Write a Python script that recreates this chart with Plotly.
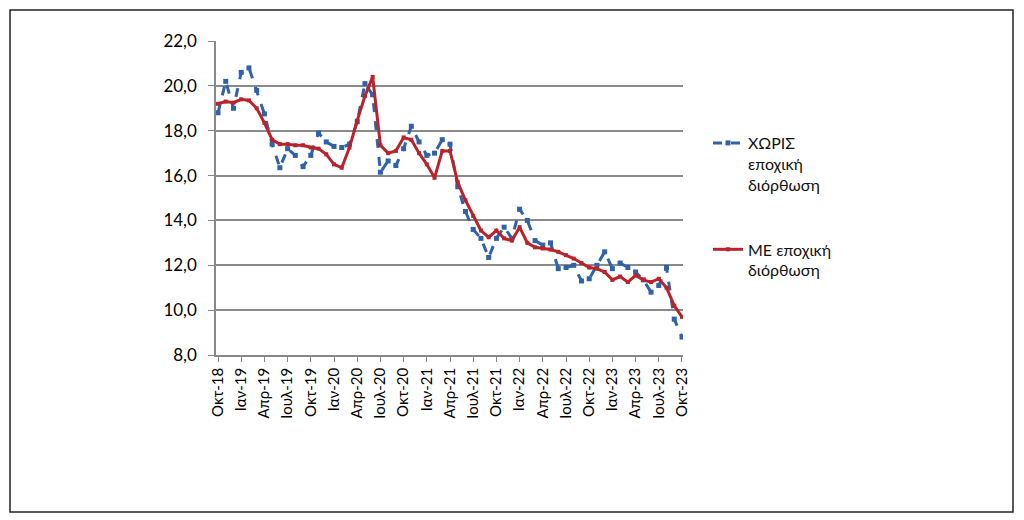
import plotly.graph_objects as go

# ---- data ----
month_names = ["Οκτ", "Νοε", "Δεκ", "Ιαν", "Φεβ", "Μαρ", "Απρ", "Μαϊ", "Ιουν", "Ιουλ", "Αυγ", "Σεπ"]
start_year = 18
n_months = 61

without_sa = [18.8, 20.2, 19.0, 20.6, 20.8, 19.8, 18.75, 17.4, 16.35, 17.2,
              16.9, 16.4, 16.9, 17.9, 17.5, 17.3, 17.25, 17.4, 18.4, 20.1,
              19.6, 16.15, 16.65, 16.45, 17.2, 18.2, 17.5, 16.9, 17.0, 17.6,
              17.4, 15.5, 14.4, 13.6, 13.2, 12.35, 13.2, 13.7, 13.2, 14.5,
              14.0, 13.1, 12.9, 13.0, 11.85, 11.9, 12.0, 11.3, 11.4, 12.0,
              12.6, 11.85, 12.1, 11.9, 11.7, 11.35, 10.8, 11.1, 11.9, 9.6,
              8.8]

with_sa = [19.2, 19.3, 19.25, 19.4, 19.35, 19.0, 18.35, 17.6, 17.4, 17.4,
           17.35, 17.35, 17.25, 17.2, 16.95, 16.5, 16.35, 17.25, 18.45, 19.55,
           20.4, 17.35, 17.0, 17.1, 17.7, 17.6, 17.0, 16.5, 15.9, 17.1,
           17.1, 15.7, 14.9, 14.2, 13.55, 13.25, 13.55, 13.2, 13.1, 13.7,
           13.0, 12.8, 12.75, 12.7, 12.6, 12.45, 12.3, 12.1, 11.9, 11.85,
           11.7, 11.35, 11.5, 11.25, 11.55, 11.35, 11.25, 11.4, 11.0, 10.2,
           9.7]

series_names = ["ΧΩΡΙΣ<br>εποχική<br>διόρθωση", "ΜΕ εποχική<br>διόρθωση"]
y_ticks = [8, 10, 12, 14, 16, 18, 20, 22]

labels = []
for i in range(n_months):
    yr = start_year + (9 + i) // 12
    labels.append(f"{month_names[i % 12]}-{yr:02d}")
tick_labels = labels[::3]

# ---- figure ----
OFF = 8  # page body margin
W, H = 1024 - OFF, 520 - OFF
L, R, T, B = 216 - OFF, 683 - OFF, 41 - OFF, 355 - OFF

fig = go.Figure()
fig.add_trace(go.Scatter(
    x=labels, y=without_sa, name=series_names[0], mode="lines+markers",
    line=dict(color="#2F62A8", width=3, dash="dash"),
    marker=dict(symbol="square", size=5, color="#2F62A8"),
    legendgroup="a",
))
fig.add_trace(go.Scatter(
    x=labels, y=with_sa, name=series_names[1], mode="lines+markers",
    line=dict(color="#B8242A", width=3),
    marker=dict(symbol="square", size=4, color="#B8242A"),
    legendgroup="b",
))

pw, ph = R - L, B - T
def px_x(p):
    return (p - OFF - L) / pw
def px_y(p):
    return (B - (p - OFF)) / ph

fig.update_layout(
    width=W, height=H,
    margin=dict(l=L, r=W - R, t=T, b=H - B, autoexpand=False),
    paper_bgcolor="white", plot_bgcolor="white",
    separators=",.",
    font=dict(family="Lato, 'Open Sans', sans-serif", color="black"),
    showlegend=True,
    legend=dict(
        x=px_x(708), y=px_y(126), xanchor="left", yanchor="top",
        font=dict(size=16, color="#111"),
        traceorder="grouped", tracegroupgap=41, valign="top",
        bgcolor="rgba(0,0,0,0)",
    ),
    xaxis=dict(
        type="category", range=[-0.26, 60.13],
        tickmode="array", tickvals=tick_labels, ticktext=tick_labels,
        tickangle=-90, tickfont=dict(size=15),
        ticks="outside", ticklen=5, tickcolor="#888",
        showline=True, linecolor="#888", linewidth=1.5,
        showgrid=False, zeroline=False,
    ),
    yaxis=dict(
        range=[8, 22], tickvals=y_ticks, tickformat=".1f",
        tickfont=dict(size=17),
        ticks="outside", ticklen=6, tickcolor="#888",
        ticklabelstandoff=8,
        showline=True, linecolor="#888", linewidth=1.5,
        showgrid=True, gridcolor="#8a8a8a", gridwidth=1.5,
        zeroline=False,
    ),
    shapes=[dict(
        type="rect", xref="paper", yref="paper",
        x0=px_x(10), x1=px_x(1013), y0=px_y(512), y1=px_y(10),
        line=dict(color="#222", width=1.5), fillcolor="rgba(0,0,0,0)",
        layer="below",
    )],
)

fig.write_html("out.html")
